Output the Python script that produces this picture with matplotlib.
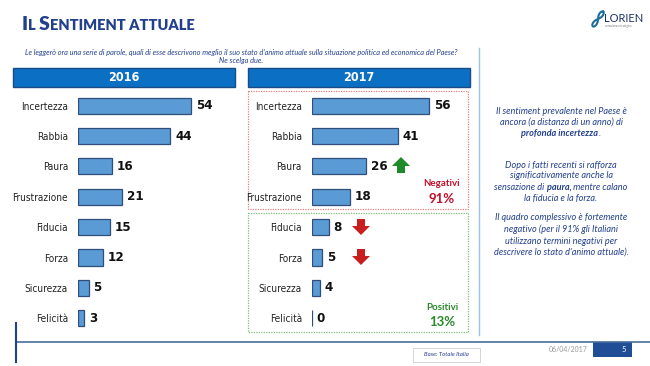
import numpy as np
import matplotlib.pyplot as plt
from matplotlib import font_manager
from matplotlib.patches import Rectangle, Polygon

categories = ['Incertezza', 'Rabbia', 'Paura', 'Frustrazione',
              'Fiducia', 'Forza', 'Sicurezza', 'Felicità']
vals_2016 = [54, 44, 16, 21, 15, 12, 5, 3]
vals_2017 = [56, 41, 26, 18, 8, 5, 4, 0]
years = ['2016', '2017']
neg_label, neg_pct = 'Negativi', '91%'
pos_label, pos_pct = 'Positivi', '13%'

# pick a narrow face if one is around
fonts = font_manager.fontManager.ttflist
names = {f.name for f in fonts}
if 'Liberation Sans Narrow' in names:
    narrow, stretch, shrink = 'Liberation Sans Narrow', 'normal', 1.0
elif any(f.name == 'DejaVu Sans' and f.stretch == 'condensed' for f in fonts):
    narrow, stretch, shrink = 'DejaVu Sans', 'condensed', 0.95
else:
    narrow, stretch, shrink = 'Roboto', 'normal', 0.88
body = 'Lato'

W, H = 650, 366
fig = plt.figure(figsize=(W / 100, H / 100), dpi=100)
fig.patch.set_facecolor('white')

# overlay in pixel coordinates for the slide decorations
ov = fig.add_axes([0, 0, 1, 1], zorder=0)
ov.set_xlim(0, W)
ov.set_ylim(H, 0)
ov.axis('off')
renderer = fig.canvas.get_renderer()

navy = '#22408c'


def rich_line(x, y, parts, ha='center', **kw):
    # parts: list of (text, props); placed one after the other
    objs = []
    for s, p in parts:
        t = ov.text(0, y, s, va='baseline', ha='left', **{**kw, **p})
        objs.append(t)
    widths = [t.get_window_extent(renderer).width for t in objs]
    total = sum(widths)
    x0 = x - total / 2 if ha == 'center' else x
    for t, w in zip(objs, widths):
        t.set_x(x0)
        x0 += w


# title in small caps
big, small = 14, 10.5
rich_line(22, 30, [('I', dict(fontsize=big)), ('L ', dict(fontsize=small)),
                   ('S', dict(fontsize=big)), ('ENTIMENT ATTUALE', dict(fontsize=small))],
          ha='left', color=navy, family=body, fontweight='heavy')

# logo: tilted figure-eight
tt = np.linspace(0, 2 * np.pi, 200)
lx = 9 * np.cos(tt) / (1 + np.sin(tt) ** 2)
ly = 9 * np.sin(tt) * np.cos(tt) / (1 + np.sin(tt) ** 2)
ang = np.deg2rad(-55)
ov.plot(598 + lx * np.cos(ang) - ly * np.sin(ang) * 0.6,
        19 + lx * np.sin(ang) + ly * np.cos(ang) * 0.6, color='#1d6f9a', lw=1.5)
ov.text(604, 22, 'LORIEN', fontsize=8, color='#1f3560', family=body, va='baseline')
ov.text(605, 27, 'consulenza strategica', fontsize=2, color='#777777', family=body)

# question
ov.text(241, 52, "Le leggerò ora una serie di parole, quali di esse descrivono meglio il suo stato d'animo attuale sulla situazione politica ed economica del Paese?",
        fontsize=5.3, style='italic', color=navy, family=body, ha='center', va='center')
ov.text(241, 60, 'Ne scelga due.', fontsize=5.3, style='italic', color=navy,
        family=body, ha='center', va='center')

# year header bars
for x0, x1, yr in [(13, 235, years[0]), (248, 470, years[1])]:
    ov.add_patch(Rectangle((x0, 68), x1 - x0, 19, facecolor='#0b6fc4',
                           edgecolor='#174c86', lw=1))
    ov.text((x0 + x1) / 2, 77.5, yr, color='white', fontsize=9.5 * shrink,
            fontweight='bold', family=narrow, stretch=stretch,
            ha='center', va='center')

# group boxes 2017
ov.add_patch(Rectangle((248, 91), 220, 118, fill=False, edgecolor='#e58080',
                       lw=0.9, ls=(0, (1, 1))))
ov.add_patch(Rectangle((248, 213), 220, 119, fill=False, edgecolor='#7fbf7f',
                       lw=0.9, ls=(0, (1, 1))))
ov.text(442, 184, neg_label, color='#c0102a', fontsize=7, fontweight='bold',
        family=body, ha='center', va='center')
ov.text(442, 199, neg_pct, color='#c0102a', fontsize=9.5, fontweight='bold',
        family=body, ha='center', va='center')
ov.text(442, 308, pos_label, color='#2a8a2a', fontsize=7, fontweight='bold',
        family=body, ha='center', va='center')
ov.text(442, 322, pos_pct, color='#2a8a2a', fontsize=9.5, fontweight='bold',
        family=body, ha='center', va='center')


def block_arrow(cx, y0, y1, color):
    # y0 is the tip
    hw, sw = 9, 4
    d = np.sign(y1 - y0)
    hy = y0 + d * 9
    pts = [(cx, y0), (cx + hw, hy), (cx + sw, hy), (cx + sw, y1),
           (cx - sw, y1), (cx - sw, hy), (cx - hw, hy)]
    ov.add_patch(Polygon(pts, closed=True, facecolor=color, edgecolor='none'))


block_arrow(401, 157, 173, '#1f8a2a')
block_arrow(361, 235, 219, '#c81e1e')
block_arrow(361, 265, 249, '#c81e1e')

# separator and footer
ov.plot([479, 479], [48, 335], color='#9cc2e8', lw=1)
ov.plot([16, 650], [342, 342], color='#4a6d9e', lw=1.2)
ov.plot([16, 16], [323, 362], color='#22408c', lw=1.5)
ov.add_patch(Rectangle((593, 342), 39, 15, facecolor='#1f4e96', edgecolor='none'))
ov.text(624, 349.5, '5', color='white', fontsize=5.5, family=body, ha='center', va='center')
ov.text(568, 349, '06/04/2017', color='#9a9a9a', fontsize=5, family=body,
        ha='center', va='center')
ov.add_patch(Rectangle((414, 349), 67, 14, facecolor='#e6e6e6', edgecolor='none'))
ov.add_patch(Rectangle((413, 348), 67, 14, facecolor='white', edgecolor='#d0d0d0', lw=0.6))
ov.text(446.5, 355, 'Base: Totale Italia', color=navy, fontsize=4.3, style='italic',
        family=body, ha='center', va='center')

# right-hand comment
ckw = dict(color=navy, family=body, style='italic', fontsize=6.6)
b = dict(fontweight='bold')
comment = [
    (111, [('Il sentiment prevalente nel Paese è', {})]),
    (122, [('ancora (a distanza di un anno) di', {})]),
    (133, [('profonda incertezza', b), ('.', {})]),
    (165, [('Dopo i fatti recenti si rafforza', {})]),
    (176, [('significativamente anche la', {})]),
    (188, [('sensazione di ', {}), ('paura,', b), (' mentre calano', {})]),
    (199, [('la fiducia e la forza.', {})]),
    (218, [('Il quadro complessivo è fortemente', {})]),
    (229, [('negativo (per il 91% gli Italiani', {})]),
    (241, [('utilizzano termini negativi per', {})]),
    (252, [("descrivere lo stato d'animo attuale).", {})]),
]
for yy, parts in comment:
    rich_line(561, yy + 2.5, parts, **ckw)

# bar panels
px_per_unit = 2.1
top_px, bot_px = 90, 336
c0, step = 105.7, 30.36
ylo = (top_px - c0) / step
yhi = (bot_px - c0) / step
ypos = np.arange(len(categories))

for left_px, right_px, vals, pad in [(78, 240, vals_2016, 7.2), (311.7, 470, vals_2017, 7.0)]:
    ax = fig.add_axes([left_px / W, 1 - bot_px / H, (right_px - left_px) / W,
                       (bot_px - top_px) / H], zorder=2)
    ax.set_facecolor('none')
    ax.barh(ypos, vals, height=0.53, color='#5b9bd5', edgecolor='#2f4f7a', lw=0.9)
    ax.set_xlim(0, (right_px - left_px) / px_per_unit)
    ax.set_ylim(yhi, ylo)
    ax.set_yticks(ypos)
    ax.set_yticklabels(categories, family=narrow, stretch=stretch,
                       fontsize=7.6 * shrink, color='#222222')
    ax.tick_params(axis='y', length=0, pad=pad)
    ax.set_xticks([])
    for s in ax.spines.values():
        s.set_visible(False)
    for yv, v in zip(ypos, vals):
        ax.annotate(str(v), (v, yv), xytext=(3.5, 0), textcoords='offset points',
                    va='center', ha='left', fontsize=10 * shrink, fontweight='bold',
                    family=narrow, stretch=stretch, color='#111111')

fig.savefig('out.png', dpi=100, facecolor='white')
